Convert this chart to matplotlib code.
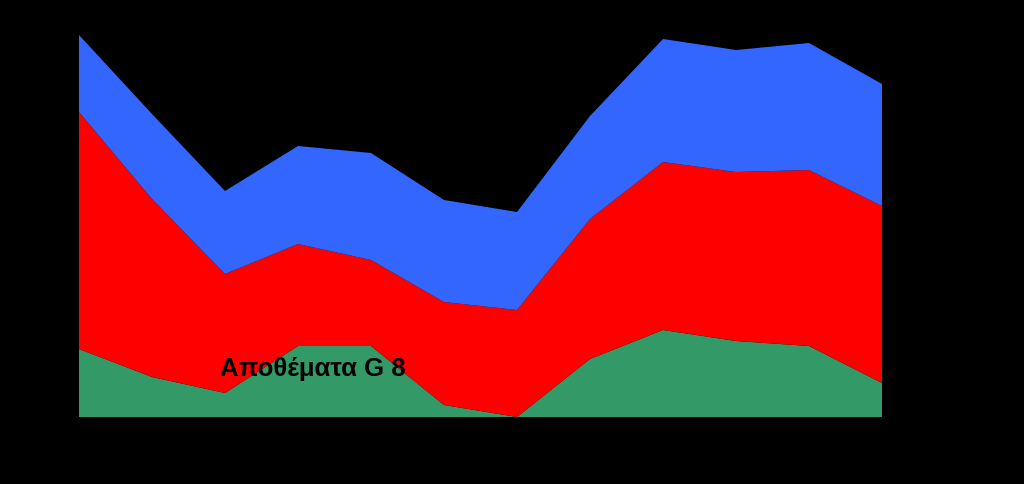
import numpy as np
import matplotlib
matplotlib.use('Agg')
import matplotlib.pyplot as plt

# twelve periods, stacked layers
periods = list(range(1, 13))
green_vals = [68, 40, 24, 71, 71, 12, 0, 58, 87, 76, 71, 34]
red_vals = [237, 178, 119, 102, 86, 103, 107, 140, 168, 169, 176, 177]
blue_vals = [77, 85, 83, 98, 107, 102, 98, 103, 123, 122, 127, 122]

label_text = 'Αποθέματα G 8'

fig = plt.figure(figsize=(10.24, 4.85), dpi=100, facecolor='black')
ax = fig.add_axes([79 / 1024, 67 / 485, 803 / 1024, 382 / 485])
ax.set_facecolor('black')

ax.stackplot(periods, green_vals, red_vals, blue_vals,
             colors=['#339966', '#FF0000', '#3366FF'], linewidth=0)

ax.set_xlim(1, 12)
ax.set_ylim(0, 382)
ax.axis('off')

ax.text(2.93, 49, label_text, fontsize=18.5, fontweight='bold',
        family=['Liberation Sans', 'DejaVu Sans'], color='black', va='center')

fig.savefig('out.png', dpi=100, facecolor='black')
